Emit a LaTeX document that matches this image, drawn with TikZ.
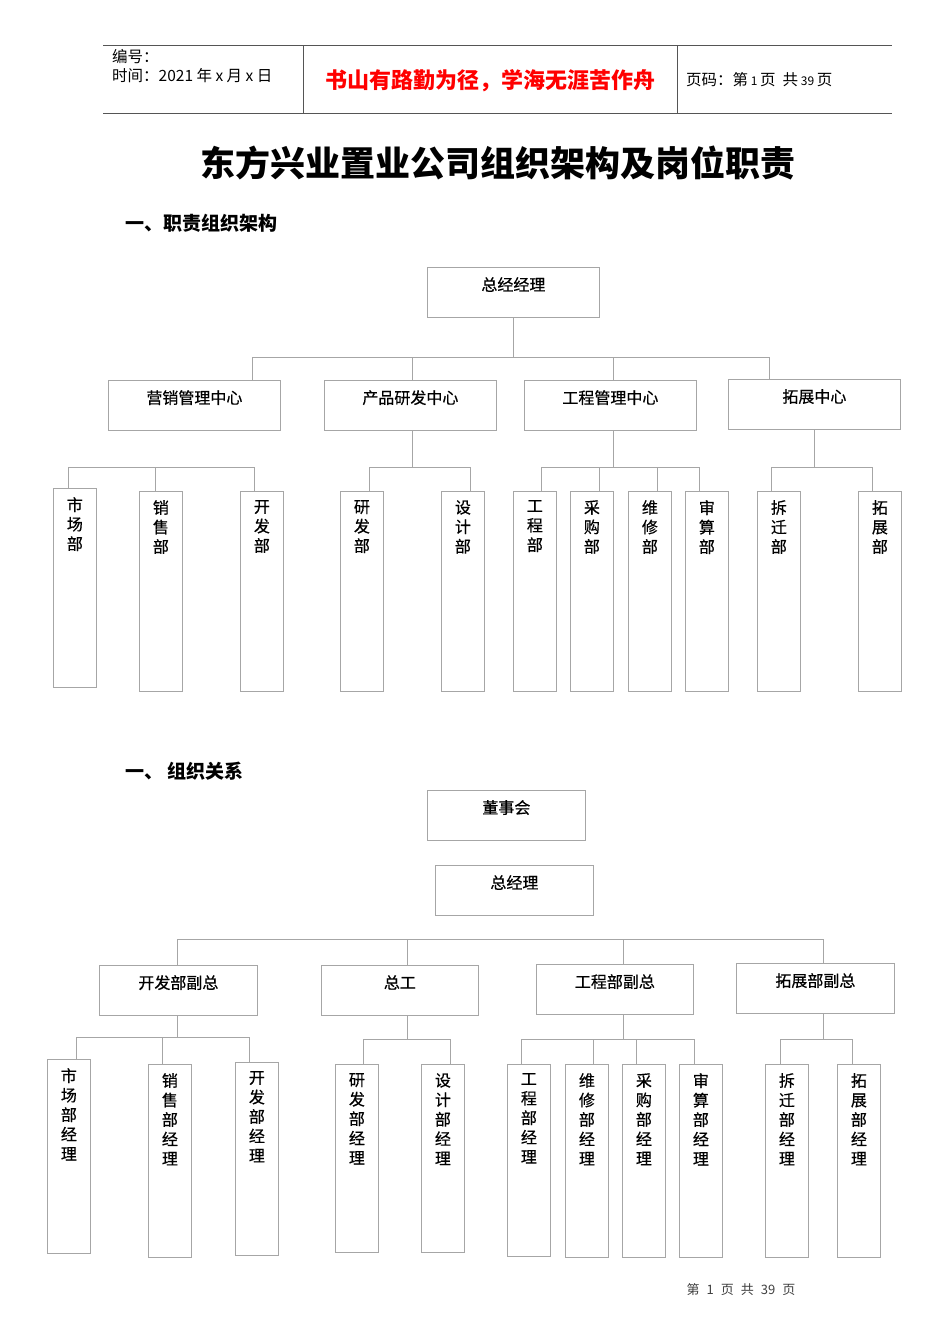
\documentclass[tikz,border=0pt]{standalone}
\usepackage{fontspec}
\setmainfont{Noto Sans CJK SC}
\newfontfamily\boxfont{Noto Sans CJK SC}[FakeBold=0.5]
\usetikzlibrary{positioning}
\definecolor{boxline}{HTML}{A6A6A6}
\definecolor{headline}{HTML}{555555}
\definecolor{motto}{HTML}{FF0000}
\definecolor{footgray}{HTML}{404040}
\tikzset{
  link/.style={draw=boxline, line width=0.8pt},
  hbox/.style={draw=boxline, line width=0.8pt, anchor=north west, inner sep=0pt, minimum width=172pt, minimum height=50pt},
  sbox/.style={hbox, minimum width=158pt},
  vbox/.style={draw=boxline, line width=0.8pt, anchor=north west, inner sep=0pt, minimum width=43pt, minimum height=200pt},
  vboxs/.style={vbox, minimum height=193pt},
  htag/.style={anchor=north, inner sep=0pt, yshift=-10pt, font=\boxfont\fontsize{16}{19}\selectfont},
  vtag/.style={anchor=north, inner sep=0pt, yshift=-9pt, align=center, font=\boxfont\fontsize{16}{19.5}\selectfont},
  plain/.style={anchor=west, inner sep=0pt, font=\fontsize{15.5}{18}\selectfont},
}

\begin{document}
\begin{tikzpicture}[x=1pt,y=-1pt]
  \fill[white] (0,0) rectangle (950,1344);
  \useasboundingbox (0,0) rectangle (950,1344);

  % page header
  \draw[headline, line width=0.8pt] (103,45) -- (892,45);
  \draw[headline, line width=0.8pt] (103,113) -- (892,113);
  \draw[headline, line width=0.8pt] (303,45) -- (303,113);
  \draw[headline, line width=0.8pt] (677,45) -- (677,113);
  \node[plain] (bianhao) at (112,57) {编号：};
  \node[plain] (shijian) at (112,76) {时间：2021\ 年\ x\ 月\ x\ 日};
  \node[inner sep=0pt, text=motto, font=\fontsize{22}{26}\selectfont\bfseries] (motto) at (490,81) {书山有路勤为径，学海无涯苦作舟};
  \node[plain] (yema) at (686,80) {页码：第{\fontsize{12}{14}\selectfont\ 1\ }页\ \ 共{\fontsize{12}{14}\selectfont\ 39\ }页};

  % titles
  \node[inner sep=0pt, font=\fontsize{35}{40}\selectfont\bfseries] (title) at (498,163) {东方兴业置业公司组织架构及岗位职责};
  \node[plain, font=\fontsize{19}{22}\selectfont\bfseries] (secone) at (125,223) {一、职责组织架构};
  \node[plain, font=\fontsize{19}{22}\selectfont\bfseries] (sectwo) at (125,771) {一、\ 组织关系};

  % chart one
  \node[hbox, label={[htag]north:总经经理}] (zjl) at (427,267) {};
  \node[hbox, label={[htag]north:营销管理中心}] (yx) at (108,380) {};
  \node[hbox, label={[htag]north:产品研发中心}] (cp) at (324,380) {};
  \node[hbox, label={[htag]north:工程管理中心}] (gc) at (524,380) {};
  \node[hbox, label={[htag]north:拓展中心}] (tz) at (728,379) {};

  \node[vbox, minimum height=199pt, label={[vtag]north:市\\场\\部}] (sc) at (53,488) {};
  \node[vbox, label={[vtag]north:销\\售\\部}] (xs) at (139,491) {};
  \node[vbox, label={[vtag]north:开\\发\\部}] (kf) at (240,491) {};
  \node[vbox, label={[vtag]north:研\\发\\部}] (yf) at (340,491) {};
  \node[vbox, label={[vtag]north:设\\计\\部}] (sj) at (441,491) {};
  \node[vbox, label={[vtag]north:工\\程\\部}] (gcb) at (513,491) {};
  \node[vbox, label={[vtag]north:采\\购\\部}] (cg) at (570,491) {};
  \node[vbox, label={[vtag]north:维\\修\\部}] (wx) at (628,491) {};
  \node[vbox, label={[vtag]north:审\\算\\部}] (ss) at (685,491) {};
  \node[vbox, label={[vtag]north:拆\\迁\\部}] (cq) at (757,491) {};
  \node[vbox, label={[vtag]north:拓\\展\\部}] (tzb) at (858,491) {};

  \coordinate (t0) at (513,357);
  \coordinate (t1) at (252,357);
  \coordinate (t2) at (412,357);
  \coordinate (t3) at (613,357);
  \coordinate (t4) at (769,357);
  \draw[link] (t0 |- zjl.south) -- (t0);
  \draw[link] (t1) -- (t4);
  \draw[link] (t1) -- (t1 |- yx.north);
  \draw[link] (t2) -- (t2 |- cp.north);
  \draw[link] (t3) -- (t3 |- gc.north);
  \draw[link] (t4) -- (t4 |- tz.north);

  \coordinate (a1) at (68,467);
  \coordinate (a2) at (155,467);
  \coordinate (a3) at (254,467);
  \draw[link] (a1) -- (a3);
  \draw[link] (a1) -- (a1 |- sc.north);
  \draw[link] (a2) -- (a2 |- xs.north);
  \draw[link] (a3) -- (a3 |- kf.north);

  \coordinate (b0) at (412,467);
  \coordinate (b1) at (369,467);
  \coordinate (b2) at (470,467);
  \draw[link] (b0 |- cp.south) -- (b0);
  \draw[link] (b1) -- (b2);
  \draw[link] (b1) -- (b1 |- yf.north);
  \draw[link] (b2) -- (b2 |- sj.north);

  \coordinate (c0) at (613,467);
  \coordinate (c1) at (541,467);
  \coordinate (c2) at (599,467);
  \coordinate (c3) at (657,467);
  \coordinate (c4) at (699,467);
  \draw[link] (c0 |- gc.south) -- (c0);
  \draw[link] (c1) -- (c4);
  \draw[link] (c1) -- (c1 |- gcb.north);
  \draw[link] (c2) -- (c2 |- cg.north);
  \draw[link] (c3) -- (c3 |- wx.north);
  \draw[link] (c4) -- (c4 |- ss.north);

  \coordinate (d0) at (814,467);
  \coordinate (d1) at (771,467);
  \coordinate (d2) at (872,467);
  \draw[link] (d0 |- tz.south) -- (d0);
  \draw[link] (d1) -- (d2);
  \draw[link] (d1) -- (d1 |- cq.north);
  \draw[link] (d2) -- (d2 |- tzb.north);

  % chart two
  \node[sbox, label={[htag]north:董事会}] (dsh) at (427,790) {};
  \node[sbox, label={[htag]north:总经理}] (zjltwo) at (435,865) {};
  \node[sbox, label={[htag]north:开发部副总}] (kff) at (99,965) {};
  \node[sbox, minimum width=157pt, label={[htag]north:总工}] (zg) at (321,965) {};
  \node[sbox, minimum width=157pt, label={[htag]north:工程部副总}] (gcf) at (536,964) {};
  \node[sbox, label={[htag]north:拓展部副总}] (tzf) at (736,963) {};

  \node[vboxs, minimum height=194pt, label={[vtag]north:市\\场\\部\\经\\理}] (scj) at (47,1059) {};
  \node[vboxs, label={[vtag]north:销\\售\\部\\经\\理}] (xsj) at (148,1064) {};
  \node[vboxs, label={[vtag]north:开\\发\\部\\经\\理}] (kfj) at (235,1062) {};
  \node[vboxs, minimum height=188pt, label={[vtag]north:研\\发\\部\\经\\理}] (yfj) at (335,1064) {};
  \node[vboxs, minimum height=188pt, label={[vtag]north:设\\计\\部\\经\\理}] (sjj) at (421,1064) {};
  \node[vboxs, minimum height=192pt, label={[vtag]north:工\\程\\部\\经\\理}] (gcj) at (507,1064) {};
  \node[vboxs, label={[vtag]north:维\\修\\部\\经\\理}] (wxj) at (565,1064) {};
  \node[vboxs, label={[vtag]north:采\\购\\部\\经\\理}] (cgj) at (622,1064) {};
  \node[vboxs, label={[vtag]north:审\\算\\部\\经\\理}] (ssj) at (679,1064) {};
  \node[vboxs, label={[vtag]north:拆\\迁\\部\\经\\理}] (cqj) at (765,1064) {};
  \node[vboxs, label={[vtag]north:拓\\展\\部\\经\\理}] (tzj) at (837,1064) {};

  \coordinate (e1) at (177,939);
  \coordinate (e2) at (407,939);
  \coordinate (e3) at (623,939);
  \coordinate (e4) at (823,939);
  \draw[link] (e1) -- (e4);
  \draw[link] (e1) -- (e1 |- kff.north);
  \draw[link] (e2) -- (e2 |- zg.north);
  \draw[link] (e3) -- (e3 |- gcf.north);
  \draw[link] (e4) -- (e4 |- tzf.north);

  \coordinate (f0) at (177,1037);
  \coordinate (f1) at (76,1037);
  \coordinate (f2) at (162,1037);
  \coordinate (f3) at (249,1037);
  \draw[link] (f0 |- kff.south) -- (f0);
  \draw[link] (f1) -- (f3);
  \draw[link] (f1) -- (f1 |- scj.north);
  \draw[link] (f2) -- (f2 |- xsj.north);
  \draw[link] (f3) -- (f3 |- kfj.north);

  \coordinate (g0) at (407,1039);
  \coordinate (g1) at (363,1039);
  \coordinate (g2) at (450,1039);
  \draw[link] (g0 |- zg.south) -- (g0);
  \draw[link] (g1) -- (g2);
  \draw[link] (g1) -- (g1 |- yfj.north);
  \draw[link] (g2) -- (g2 |- sjj.north);

  \coordinate (h0) at (623,1039);
  \coordinate (h1) at (521,1039);
  \coordinate (h2) at (593,1039);
  \coordinate (h3) at (636,1039);
  \coordinate (h4) at (694,1039);
  \draw[link] (h0 |- gcf.south) -- (h0);
  \draw[link] (h1) -- (h4);
  \draw[link] (h1) -- (h1 |- gcj.north);
  \draw[link] (h2) -- (h2 |- wxj.north);
  \draw[link] (h3) -- (h3 |- cgj.north);
  \draw[link] (h4) -- (h4 |- ssj.north);

  \coordinate (k0) at (823,1039);
  \coordinate (k1) at (780,1039);
  \coordinate (k2) at (852,1039);
  \draw[link] (k0 |- tzf.south) -- (k0);
  \draw[link] (k1) -- (k2);
  \draw[link] (k1) -- (k1 |- cqj.north);
  \draw[link] (k2) -- (k2 |- tzj.north);

  % page footer
  \node[inner sep=0pt, text=footgray, font=\fontsize{13}{15}\selectfont] (footer) at (741,1290) {第\hspace{7pt}1\hspace{7pt}页\hspace{7pt}共\hspace{7pt}39\hspace{7pt}页};
\end{tikzpicture}
\end{document}
